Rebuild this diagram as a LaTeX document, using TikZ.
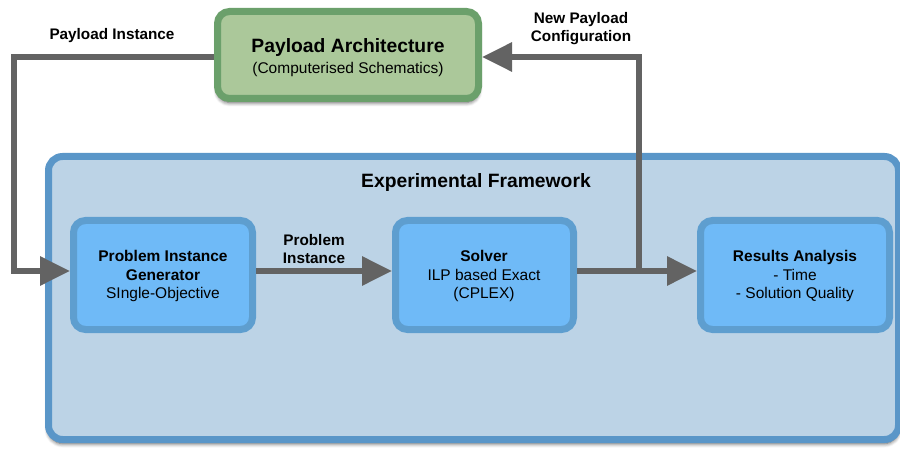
\documentclass[tikz,border=0pt]{standalone}
\usepackage{fontspec}
\setmainfont{Liberation Sans}
\usetikzlibrary{arrows.meta,shadows.blur}
\definecolor{framefill}{HTML}{BCD3E6}
\definecolor{frameedge}{HTML}{5A96C8}
\definecolor{boxfill}{HTML}{6FBAF7}
\definecolor{boxedge}{HTML}{5E9ECF}
\definecolor{greenfill}{HTML}{ABC89A}
\definecolor{greenedge}{HTML}{6BA06B}
\definecolor{arrowgray}{HTML}{636363}
\tikzset{
  framebox/.style={draw=frameedge, fill=framefill, line width=7pt, rounded corners=14pt,
    blur shadow={shadow xshift=0pt, shadow yshift=-4pt, shadow blur steps=5, shadow blur radius=4pt, shadow opacity=70}},
  greenbox/.style={draw=greenedge, fill=greenfill, line width=7pt, rounded corners=12pt,
    blur shadow={shadow xshift=0pt, shadow yshift=-4pt, shadow blur steps=5, shadow blur radius=4pt, shadow opacity=70}},
  bluebox/.style={draw=boxedge, fill=boxfill, line width=7pt, rounded corners=12pt},
  conn/.style={draw=arrowgray, line width=6pt},
  tip/.style={-{Triangle[length=30pt,width=28pt]}},
  boxtext/.style={align=center, text=black, font=\fontsize{15.5}{18.5}\selectfont},
  lbl/.style={font=\fontsize{15.3}{18}\selectfont\bfseries, align=center, text=black},
}
\begin{document}
\begin{tikzpicture}[x=1pt,y=-1pt]
\useasboundingbox (0,0) rectangle (900,449);
% frame
\draw[framebox] (48.5,156.5) rectangle (898.5,439.5);
\node[font=\fontsize{19.3}{22}\selectfont\bfseries] (ef) at (476,183) {Experimental Framework};
% green box
\draw[greenbox] (217.5,11.5) rectangle (478.5,98.5);
\node[boxtext, font=\fontsize{15.5}{21}\selectfont] (pa) at (348,58) {{\fontsize{19.3}{21}\selectfont\bfseries Payload Architecture}\\(Computerised Schematics)};
\coordinate (paW) at (214,57);
\coordinate (paE) at (482,57);
% inner boxes
\draw[bluebox] (73.5,220.5) rectangle (252.5,329.5);
\node[boxtext] (pig) at (163,276) {\textbf{Problem Instance}\\\textbf{Generator}\\SIngle-Objective};
\draw[bluebox] (395.5,220.5) rectangle (573.5,329.5);
\node[boxtext] (sol) at (484,276) {\textbf{Solver}\\ILP based Exact\\(CPLEX)};
\draw[bluebox] (700.5,220.5) rectangle (889.5,329.5);
\node[boxtext] (res) at (795,276) {\textbf{Results Analysis}\\- Time\\- Solution Quality};
\coordinate (pigW) at (70,271);
\coordinate (pigE) at (256,271);
\coordinate (solW) at (392,271);
\coordinate (solE) at (577,271);
\coordinate (resW) at (697,271);
\coordinate (br) at (639,271);
% connectors
\draw[conn, tip] (paW) -- (14,57) -- (14,271) -- (pigW);
\draw[conn, tip] (pigE) -- (solW);
\draw[conn, tip] (solE) -- (resW);
\draw[conn, tip] (br) -- (639,57) -- (paE);
% labels
\node[lbl] (l1) at (112,36) {Payload Instance};
\node[lbl] (l2) at (581,29) {New Payload\\Configuration};
\node[lbl] (l3) at (314,249) {Problem\\Instance};
\end{tikzpicture}
\end{document}
